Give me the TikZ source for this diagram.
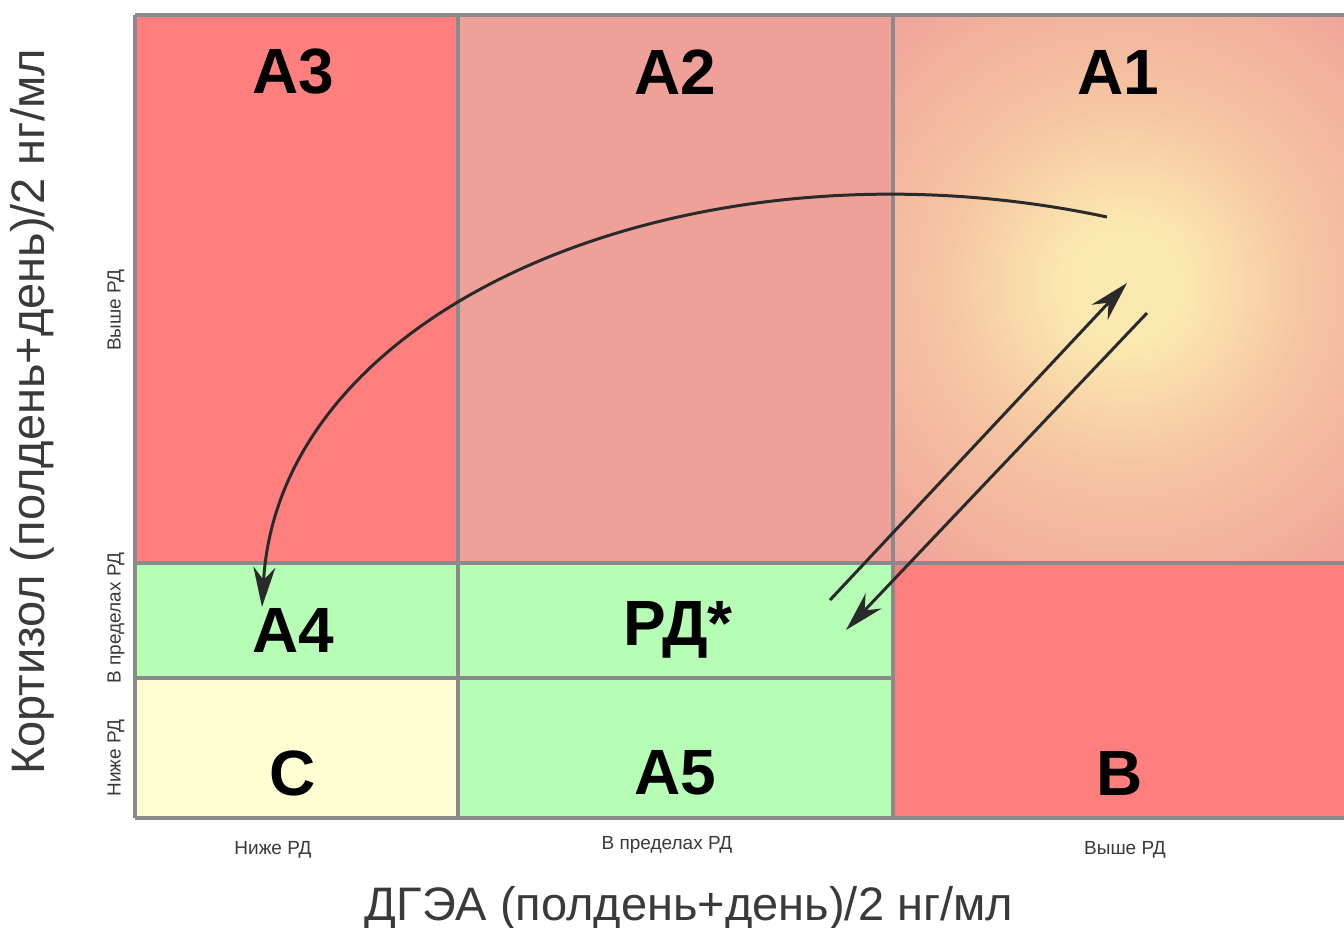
\documentclass[tikz,border=0pt]{standalone}
\usepackage{fontspec}
\setmainfont{Liberation Sans}
\usetikzlibrary{arrows.meta}
\definecolor{gridgray}{HTML}{8A8A8A}
\definecolor{redcell}{HTML}{FF7F7F}
\definecolor{pinkcell}{HTML}{EFA199}
\definecolor{greencell}{HTML}{B6FDB6}
\definecolor{yellowcell}{HTML}{FFFDD2}
\definecolor{glow}{HTML}{FBE9B0}
\definecolor{midglow}{HTML}{F6C6A2}
\definecolor{arrowc}{HTML}{2A2A2A}
\definecolor{axistext}{HTML}{3A3A3A}
\pgfdeclareradialshading{glowshade}{\pgfpoint{0bp}{0bp}}{color(0bp)=(glow); color(4bp)=(glow); color(12bp)=(midglow); color(25bp)=(pinkcell); color(50bp)=(pinkcell)}
\tikzset{
  biglabel/.style={font=\fontsize{64}{64}\selectfont\bfseries, text=black, inner sep=0pt},
  ticklabel/.style={font=\fontsize{19}{19}\selectfont, text=axistext, inner sep=0pt},
  axislabel/.style={font=\fontsize{47}{47}\selectfont, text=axistext, inner sep=0pt},
  gridline/.style={draw=gridgray, line width=4.5pt},
  flow/.style={draw=arrowc, line width=3pt, -{Stealth[length=40pt,width=22pt,inset=13pt]}}
}
\begin{document}
\begin{tikzpicture}[x=1pt,y=-1pt]
\useasboundingbox (0,0) rectangle (1344,928);
\fill[white] (0,0) rectangle (1344,928);
\begin{scope}
\clip (0,0) rectangle (1344,928);
% cells
\fill[redcell] (135,15) rectangle (458,563);
\fill[pinkcell] (458,15) rectangle (893,563);
\fill[pinkcell] (893,15) rectangle (1360,563);
\begin{scope}
\clip (893,15) rectangle (1360,563);
\shade[shading=glowshade] (1125,285) circle (370);
\end{scope}
\fill[greencell] (135,563) rectangle (893,678);
\fill[yellowcell] (135,678) rectangle (458,818);
\fill[greencell] (458,678) rectangle (893,818);
\fill[redcell] (893,563) rectangle (1360,818);
% grid
\draw[gridline] (135,15) -- (1360,15);
\draw[gridline] (135,818) -- (1360,818);
\draw[gridline] (135,15) -- (135,818);
\draw[gridline] (458,15) -- (458,818);
\draw[gridline] (893,15) -- (893,818);
\draw[gridline] (135,563) -- (1360,563);
\draw[gridline] (135,678) -- (893,678);
\end{scope}
% big labels
\node[biglabel] (a3) at (293,72) {A3};
\node[biglabel] (a2) at (675,72) {A2};
\node[biglabel] (a1) at (1118,72) {A1};
\node[biglabel] (a4) at (293,630) {A4};
\node[biglabel] (rd) at (678,630) {РД*};
\node[biglabel] (c) at (293,773) {C};
\node[biglabel] (a5) at (675,773) {A5};
\node[biglabel] (b) at (1120,773) {B};
% tick labels
\node[ticklabel, rotate=90] (yhigh) at (116,310) {Выше РД};
\node[ticklabel, rotate=90] (ymid) at (116,618) {В пределах РД};
\node[ticklabel, rotate=90] (ylow) at (116,758) {Ниже РД};
\node[ticklabel] (xlow) at (273,850) {Ниже РД};
\node[ticklabel] (xmid) at (667,845) {В пределах РД};
\node[ticklabel] (xhigh) at (1125,850) {Выше РД};
% axis labels
\node[axislabel, rotate=90] (ylab) at (32,412) {Кортизол  (полдень+день)/2 нг/мл};
\node[axislabel] (xlab) at (689,908) {ДГЭА (полдень+день)/2 нг/мл};
% arrows
\coordinate (cs) at (1107,217);
\coordinate (ce) at (262,607);
\coordinate (u1) at (830,600);
\coordinate (u2) at (1127,283);
\coordinate (d1) at (1147,313);
\coordinate (d2) at (846,630);
\draw[flow] (cs) .. controls (700,130) and (280,300) .. (ce);
\draw[flow] (u1) -- (u2);
\draw[flow] (d1) -- (d2);
\end{tikzpicture}
\end{document}
